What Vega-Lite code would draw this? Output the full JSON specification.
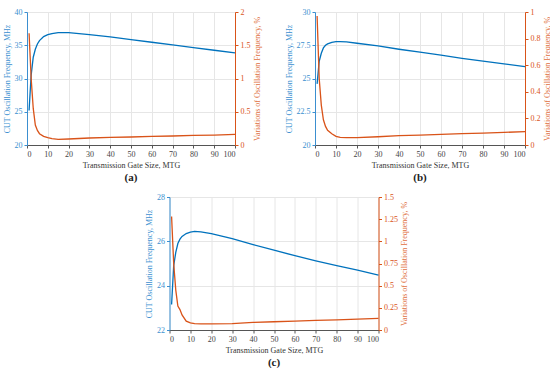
{
  "$schema": "https://vega.github.io/schema/vega-lite/v6.json",
  "background": "white",
  "padding": {"left": 3, "top": 8, "right": 2, "bottom": 0},
  "data": {"values": [
    {"panel":"a","x":1,"freq":25.2,"var":1.68},
    {"panel":"a","x":2,"freq":30.5,"var":1.0},
    {"panel":"a","x":3,"freq":33.2,"var":0.55},
    {"panel":"a","x":4,"freq":34.4,"var":0.3},
    {"panel":"a","x":5,"freq":35.2,"var":0.22},
    {"panel":"a","x":6,"freq":35.7,"var":0.17},
    {"panel":"a","x":8,"freq":36.3,"var":0.13},
    {"panel":"a","x":10,"freq":36.6,"var":0.11},
    {"panel":"a","x":12,"freq":36.75,"var":0.095},
    {"panel":"a","x":15,"freq":36.9,"var":0.085},
    {"panel":"a","x":20,"freq":36.9,"var":0.09},
    {"panel":"a","x":30,"freq":36.6,"var":0.105},
    {"panel":"a","x":40,"freq":36.25,"var":0.115},
    {"panel":"a","x":50,"freq":35.85,"var":0.12},
    {"panel":"a","x":60,"freq":35.45,"var":0.13},
    {"panel":"a","x":70,"freq":35.05,"var":0.135},
    {"panel":"a","x":80,"freq":34.65,"var":0.145},
    {"panel":"a","x":90,"freq":34.25,"var":0.15},
    {"panel":"a","x":100,"freq":33.85,"var":0.16},
    {"panel":"b","x":1,"freq":24.6,"var":0.97},
    {"panel":"b","x":2,"freq":26.3,"var":0.5},
    {"panel":"b","x":3,"freq":26.9,"var":0.3},
    {"panel":"b","x":4,"freq":27.3,"var":0.19},
    {"panel":"b","x":5,"freq":27.5,"var":0.14},
    {"panel":"b","x":6,"freq":27.6,"var":0.11},
    {"panel":"b","x":8,"freq":27.72,"var":0.085},
    {"panel":"b","x":10,"freq":27.77,"var":0.065},
    {"panel":"b","x":12,"freq":27.78,"var":0.058},
    {"panel":"b","x":15,"freq":27.75,"var":0.055},
    {"panel":"b","x":20,"freq":27.65,"var":0.056},
    {"panel":"b","x":30,"freq":27.45,"var":0.062},
    {"panel":"b","x":40,"freq":27.2,"var":0.07},
    {"panel":"b","x":50,"freq":26.98,"var":0.075},
    {"panel":"b","x":60,"freq":26.75,"var":0.08},
    {"panel":"b","x":70,"freq":26.52,"var":0.085},
    {"panel":"b","x":80,"freq":26.3,"var":0.09},
    {"panel":"b","x":90,"freq":26.1,"var":0.095},
    {"panel":"b","x":100,"freq":25.9,"var":0.1},
    {"panel":"c","x":1,"freq":23.15,"var":1.28},
    {"panel":"c","x":2,"freq":24.9,"var":0.75},
    {"panel":"c","x":3,"freq":25.5,"var":0.45},
    {"panel":"c","x":4,"freq":25.9,"var":0.27},
    {"panel":"c","x":5,"freq":26.1,"var":0.23},
    {"panel":"c","x":6,"freq":26.22,"var":0.17},
    {"panel":"c","x":8,"freq":26.35,"var":0.1},
    {"panel":"c","x":10,"freq":26.42,"var":0.08},
    {"panel":"c","x":12,"freq":26.45,"var":0.072},
    {"panel":"c","x":15,"freq":26.43,"var":0.068},
    {"panel":"c","x":20,"freq":26.35,"var":0.068},
    {"panel":"c","x":30,"freq":26.12,"var":0.072},
    {"panel":"c","x":40,"freq":25.85,"var":0.085},
    {"panel":"c","x":50,"freq":25.6,"var":0.093},
    {"panel":"c","x":60,"freq":25.35,"var":0.1},
    {"panel":"c","x":70,"freq":25.12,"var":0.108},
    {"panel":"c","x":80,"freq":24.9,"var":0.115},
    {"panel":"c","x":90,"freq":24.7,"var":0.122},
    {"panel":"c","x":100,"freq":24.48,"var":0.13}
  ]},
  "center": true,
  "spacing": 10,
  "vconcat": [
    {
      "hconcat": [
        {
          "width": 208, "height": 133,
          "title": {"text": "(a)", "orient": "bottom"},
          "transform": [{"filter": "datum.panel == 'a'"}],
          "encoding": {
            "x": {"field": "x", "type": "quantitative", "scale": {"domain": [0, 100], "nice": false},
                  "axis": {"title": "Transmission Gate Size, MTG", "values": [0,10,20,30,40,50,60,70,80,90,100], "labelOverlap": false}}
          },
          "layer": [
            {"mark": {"type": "line", "color": "#0072BD", "strokeWidth": 1.3},
             "encoding": {
               "y": {"field": "freq", "type": "quantitative", "scale": {"domain": [20, 40], "zero": false, "nice": false},
                     "axis": {"title": "CUT Oscillation Frequency, MHz", "values": [20,25,30,35,40], "orient": "left",
                              "labelColor": "#3b8fd0", "titleColor": "#3b8fd0", "domainColor": "#3b8fd0", "tickColor": "#3b8fd0"}}
             }},
            {"mark": {"type": "line", "color": "#D95319", "strokeWidth": 1.3},
             "encoding": {
               "y": {"field": "var", "type": "quantitative", "scale": {"domain": [0, 2], "nice": false},
                     "axis": {"title": "Variations of Oscillation Frequency, %", "values": [0,0.5,1,1.5,2], "orient": "right", "grid": false,
                              "titleAngle": -90, "titleBaseline": "top",
                              "labelColor": "#D95319", "titleColor": "#E07040", "domainColor": "#D95319", "tickColor": "#D95319"}}
             }}
          ],
          "resolve": {"scale": {"y": "independent"}}
        },
        {
          "width": 210, "height": 133,
          "title": {"text": "(b)", "orient": "bottom"},
          "transform": [{"filter": "datum.panel == 'b'"}],
          "encoding": {
            "x": {"field": "x", "type": "quantitative", "scale": {"domain": [0, 100], "nice": false},
                  "axis": {"title": "Transmission Gate Size, MTG", "values": [0,10,20,30,40,50,60,70,80,90,100], "labelOverlap": false}}
          },
          "layer": [
            {"mark": {"type": "line", "color": "#0072BD", "strokeWidth": 1.3},
             "encoding": {
               "y": {"field": "freq", "type": "quantitative", "scale": {"domain": [20, 30], "zero": false, "nice": false},
                     "axis": {"title": "CUT Oscillation Frequency, MHz", "values": [20,22.5,25,27.5,30], "orient": "left",
                              "labelColor": "#3b8fd0", "titleColor": "#3b8fd0", "domainColor": "#3b8fd0", "tickColor": "#3b8fd0"}}
             }},
            {"mark": {"type": "line", "color": "#D95319", "strokeWidth": 1.3},
             "encoding": {
               "y": {"field": "var", "type": "quantitative", "scale": {"domain": [0, 1], "nice": false},
                     "axis": {"title": "Variations of Oscillation Frequency, %", "values": [0,0.2,0.4,0.6,0.8,1], "orient": "right", "grid": false,
                              "titleAngle": -90, "titleBaseline": "top",
                              "labelColor": "#D95319", "titleColor": "#E07040", "domainColor": "#D95319", "tickColor": "#D95319"}}
             }}
          ],
          "resolve": {"scale": {"y": "independent"}}
        }
      ],
      "spacing": 24
    },
    {
      "width": 209, "height": 133,
      "title": {"text": "(c)", "orient": "bottom"},
      "transform": [{"filter": "datum.panel == 'c'"}],
      "encoding": {
        "x": {"field": "x", "type": "quantitative", "scale": {"domain": [0, 100], "nice": false},
              "axis": {"title": "Transmission Gate Size, MTG", "values": [0,10,20,30,40,50,60,70,80,90,100], "labelOverlap": false}}
      },
      "layer": [
        {"mark": {"type": "line", "color": "#0072BD", "strokeWidth": 1.3},
         "encoding": {
           "y": {"field": "freq", "type": "quantitative", "scale": {"domain": [22, 28], "zero": false, "nice": false},
                 "axis": {"title": "CUT Oscillation Frequency, MHz", "values": [22,24,26,28], "orient": "left",
                          "labelColor": "#3b8fd0", "titleColor": "#3b8fd0", "domainColor": "#3b8fd0", "tickColor": "#3b8fd0"}}
         }},
        {"mark": {"type": "line", "color": "#D95319", "strokeWidth": 1.3},
         "encoding": {
           "y": {"field": "var", "type": "quantitative", "scale": {"domain": [0, 1.5], "nice": false},
                 "axis": {"title": "Variations of Oscillation Frequency, %", "values": [0,0.25,0.5,0.75,1,1.25,1.5], "orient": "right", "grid": false,
                          "titleAngle": -90, "titleBaseline": "top",
                          "labelColor": "#D95319", "titleColor": "#E07040", "domainColor": "#D95319", "tickColor": "#D95319"}}
         }}
      ],
      "resolve": {"scale": {"y": "independent"}}
    }
  ],
  "config": {
    "view": {"stroke": null},
    "font": "Liberation Serif",
    "axis": {
      "labelFont": "Liberation Serif", "labelFontSize": 8, "labelColor": "#444", "labelExpr": "'' + datum.value", "labelOverlap": false,
      "titleFont": "Liberation Serif", "titleFontSize": 8, "titleFontWeight": "normal", "titleColor": "#333",
      "titlePadding": 3, "labelPadding": 2,
      "tickSize": 3, "gridColor": "#e6e6e6", "domainColor": "#555", "tickColor": "#555"
    },
    "title": {"font": "Liberation Serif", "fontSize": 11, "fontWeight": "bold", "color": "#222", "offset": 3}
  }
}
